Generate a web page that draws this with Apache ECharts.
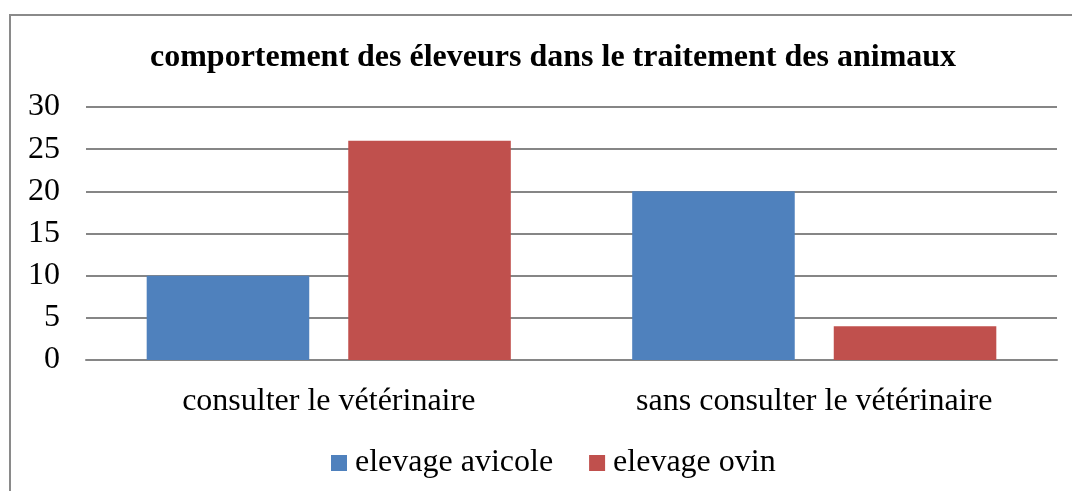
<!DOCTYPE html>
<html lang="fr">
<head>
    <meta charset="UTF-8">
    <title>comportement des éleveurs</title>
    <style>
        html, body { margin: 0; padding: 0; background: #fff; }
        #main { width: 1072px; height: 491px; }
    </style>
    <script src="https://cdn.jsdelivr.net/npm/echarts@6/dist/echarts.min.js"></script>
</head>
<body>
<div id="main"></div>
<script>
    // donnees du graphique
    var categories = ['consulter le vétérinaire', 'sans consulter le vétérinaire'];
    var avicole = [10, 20];
    var ovin = [26, 4];
    var seriesNames = ['elevage avicole', 'elevage ovin'];

    var font = '"Liberation Serif", "Times New Roman", serif';
    var myChart = echarts.init(document.getElementById('main'));

    var option = {
        animation: false,
        backgroundColor: '#fff',
        title: {
            text: 'comportement des éleveurs dans le traitement des animaux',
            left: 145,
            top: 37,
            textStyle: { fontFamily: font, fontSize: 32, fontWeight: 'bold', color: '#000' }
        },
        graphic: [{
            type: 'rect',
            shape: { x: 10, y: 15, width: 1100, height: 520 },
            style: { fill: 'none', stroke: '#8a8a8a', lineWidth: 2 },
            silent: true
        }],
        legend: {
            top: 442,
            left: 326,
            itemWidth: 16,
            itemHeight: 16,
            itemGap: 36,
            icon: 'rect',
            textStyle: { fontFamily: font, fontSize: 32, color: '#000', padding: [0, 0, 0, 3] },
            data: seriesNames
        },
        grid: { left: 86, right: 15, top: 107, bottom: 131 },
        xAxis: {
            type: 'category',
            data: categories,
            axisLine: { lineStyle: { color: '#868686', width: 2 } },
            axisTick: { show: false },
            axisLabel: { fontFamily: font, fontSize: 32, color: '#000', margin: 26 }
        },
        yAxis: {
            type: 'value',
            min: 0,
            max: 30,
            interval: 5,
            axisLine: { show: false },
            axisTick: { show: false },
            splitLine: { lineStyle: { color: '#868686', width: 2 } },
            axisLabel: { fontFamily: font, fontSize: 32, color: '#000', margin: 26 }
        },
        series: [
            {
                name: seriesNames[0],
                type: 'bar',
                data: avicole,
                barGap: '24%',
                barCategoryGap: '25%',
                itemStyle: { color: '#4F81BD' }
            },
            {
                name: seriesNames[1],
                type: 'bar',
                data: ovin,
                itemStyle: { color: '#C0504D' }
            }
        ]
    };

    myChart.setOption(option);
</script>
</body>
</html>
